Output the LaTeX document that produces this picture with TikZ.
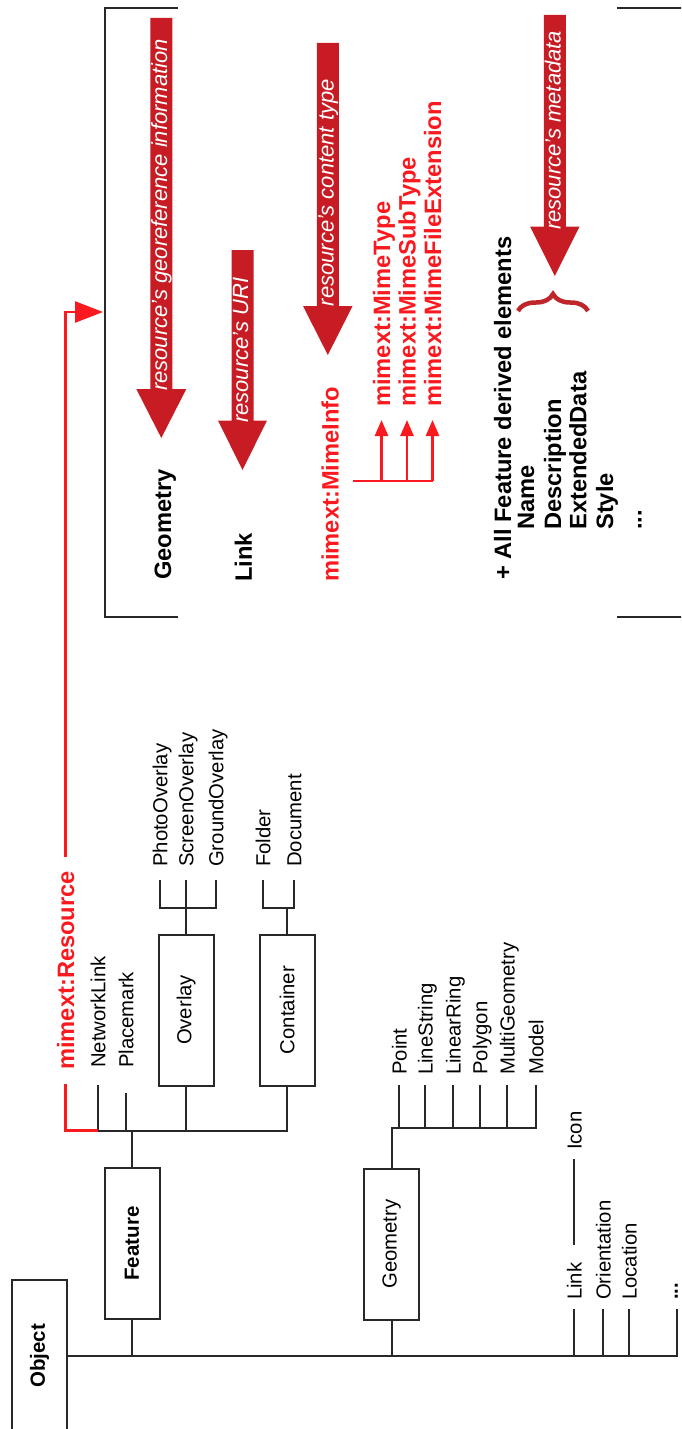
\documentclass[tikz,border=0pt]{standalone}
\usepackage{fontspec}
\setmainfont{Liberation Sans}
\usetikzlibrary{arrows.meta,decorations.pathreplacing}
\definecolor{inkgray}{RGB}{40,40,40}
\definecolor{linkred}{RGB}{250,25,30}
\definecolor{bannerred}{RGB}{200,28,36}
\definecolor{bracered}{RGB}{190,38,44}
\begin{document}
\begin{tikzpicture}[x=1pt,y=-1pt,
  ln/.style={draw=inkgray, line width=2pt},
  rln/.style={draw=linkred, line width=2.6pt},
  classbox/.style={draw=inkgray, line width=2pt, rotate=90, minimum width=151pt,
    minimum height=55pt, inner sep=0pt, font=\fontsize{20.3}{24}\selectfont},
  boldbox/.style={classbox, font=\bfseries\fontsize{20.5}{24}\selectfont},
  lbl/.style={rotate=90, anchor=west, inner sep=0pt, text height=14.5pt,
    text depth=0pt, font=\fontsize{20.3}{24}\selectfont},
  blbl/.style={rotate=90, anchor=west, inner sep=0pt, text height=17pt,
    text depth=0pt, font=\bfseries\fontsize{23.7}{28}\selectfont},
  rlbl/.style={blbl, text=linkred},
  btxt/.style={rotate=90, anchor=west, inner sep=0pt, text height=11.4pt,
    text depth=0pt, text=white, font=\itshape\fontsize{22}{26}\selectfont},
  banner/.style={fill=bannerred},
  smallhead/.style={-{Triangle[length=16pt,width=13pt]}},
]
\useasboundingbox (0,0) rectangle (681,1429);
\clip (0,0) rectangle (681,1429);

% ---------- class hierarchy ----------
\node[boldbox, minimum width=152pt] (obj) at (39.5,1356) {Object};
\node[boldbox] (feat) at (132,1243.5) {Feature};
\node[classbox] (ovl) at (186,1010) {Overlay};
\node[classbox] (cont) at (287,1010) {Container};
\node[classbox] (geom) at (391.7,1244) {Geometry};

% trunk from Object
\draw[ln] (obj.south) -- (677.3,1356) -- (677.3,1309.3);
\draw[ln] (feat.west) -- (feat.west |- obj.south);
\draw[ln] (geom.west) -- (geom.west |- obj.south);

% Feature children
\node[lbl] (nlink) at (98,1068) {NetworkLink};
\node[lbl] (pmark) at (126,1068) {Placemark};
\draw[ln] (feat.east) -- (132,1130.7);
\draw[ln] ([yshift=-17pt]nlink.west) -- (98,1130.7) -- (287,1130.7) -- (cont.west);
\draw[ln] (126,1130.7) -- ([yshift=-25pt]pmark.west);
\draw[ln] (186,1130.7) -- (ovl.west);

% Overlay children
\node[lbl] (photo) at (160,867) {PhotoOverlay};
\node[lbl] (screen) at (186,867) {ScreenOverlay};
\node[lbl] (ground) at (216,867) {GroundOverlay};
\draw[ln] (ovl.east) -- (186,908);
\draw[ln] ([yshift=-13pt]photo.west) -- (160,908) -- (216,908) -- ([yshift=-13pt]ground.west);
\draw[ln] (186,908) -- ([yshift=-13pt]screen.west);

% Container children
\node[lbl] (folder) at (263,867) {Folder};
\node[lbl] (docu) at (294,867) {Document};
\draw[ln] (cont.east) -- (287,908);
\draw[ln] ([yshift=-13pt]folder.west) -- (263,908) -- (294,908) -- ([yshift=-13pt]docu.west);

% Geometry children
\node[lbl] (gpoint) at (399.3,1075) {Point};
\node[lbl] (gline) at (425.3,1075) {LineString};
\node[lbl] (gring) at (453.3,1075) {LinearRing};
\node[lbl] (gpoly) at (480,1075) {Polygon};
\node[lbl] (gmulti) at (507.3,1075) {MultiGeometry};
\node[lbl] (gmodel) at (536,1075) {Model};
\draw[ln] (geom.east) -- (391.7,1127.7) -- (536,1127.7) -- ([yshift=-10pt]gmodel.west);
\foreach \gx/\gn in {399.3/gpoint, 425.3/gline, 453.3/gring, 480/gpoly, 507.3/gmulti}
  \draw[ln] (\gx,1127.7) -- ([yshift=-10pt]\gn.west);

% other Object children
\node[lbl] (olink) at (574.3,1300) {Link};
\node[lbl] (orient) at (603.3,1300) {Orientation};
\node[lbl] (oloc) at (629.3,1300) {Location};
\node[lbl, font=\bfseries\fontsize{20.3}{24}\selectfont] (omore) at (670.5,1300) {...};
\node[lbl] (icon) at (574.3,1150) {Icon};
\foreach \ox/\on in {574.3/olink, 603.3/orient, 629.3/oloc}
  \draw[ln] (\ox,1356) -- ([yshift=-9pt]\on.west);
\draw[ln] ([yshift=17pt]olink.east) -- ([yshift=-9pt]icon.west);

% ---------- mimext:Resource ----------
\coordinate (rentry) at (103,312);
\node[rlbl, inner xsep=13.5pt] (res) at (65.5,1083.5) {mimext:Resource};
\draw[rln] (98,1130.7) -- (65.5,1130.7) -- (res.west);
\draw[rln, -{Triangle[length=28pt,width=21pt]}] (res.east) |- (rentry);

% bracket around the resource elements
\draw[ln] (178,8) -- (104.5,8) -- (104.5,617) -- (178,617);
\draw[ln] (616.7,8) -- (690,8);
\draw[ln] (616.7,617) -- (690,617);

% banner arrows
\fill[banner] (150.3,18) -- (172.3,18) -- (172.3,389) -- (186.3,389) -- (161.3,438)
  -- (136.3,389) -- (150.3,389) -- cycle;
\fill[banner] (231.5,250) -- (253.5,250) -- (253.5,420.5) -- (267,420.5) -- (242.5,470)
  -- (218,420.5) -- (231.5,420.5) -- cycle;
\fill[banner] (316.8,43) -- (338.8,43) -- (338.8,306) -- (352.6,306) -- (327.8,355)
  -- (303,306) -- (316.8,306) -- cycle;
\fill[banner] (543.8,15) -- (565.8,15) -- (565.8,226.5) -- (579.6,226.5) -- (554.8,276)
  -- (530,226.5) -- (543.8,226.5) -- cycle;
\node[btxt] (tgeo) at (161.3,391) {resource's georeference information};
\node[btxt] (turi) at (242.5,423) {resource's URI};
\node[btxt] (ttype) at (327.8,306.5) {resource's content type};
\node[btxt] (tmeta) at (554.8,230) {resource's metadata};

% resource elements
\node[blbl] (rgeo) at (162.5,580) {Geometry};
\node[blbl] (rlink) at (243.3,582) {Link};
\node[rlbl] (minfo) at (330,582) {mimext:MimeInfo};
\node[rlbl] (mtype) at (381.5,407) {mimext:MimeType};
\node[rlbl] (msub) at (407,407) {mimext:MimeSubType};
\node[rlbl] (mext) at (432.5,407) {mimext:MimeFileExtension};
\coordinate (mjoin) at (353,481);
\draw[rln] (mjoin) -- (432.5,481);
\foreach \mx/\mn in {381.5/mtype, 407/msub, 432.5/mext}
  \draw[rln, smallhead] (\mx,481) -- ([yshift=-13pt]\mn.west);

\node[blbl] (allf) at (502.5,580) {+ All Feature derived elements};
\node[blbl] (fname) at (525.5,530) {Name};
\node[blbl] (fdesc) at (552.7,530) {Description};
\node[blbl] (fext) at (577.8,530) {ExtendedData};
\node[blbl] (fstyle) at (604.5,530) {Style};
\node[blbl] (fmore) at (633,530) {...};

\draw[bracered, line width=4.5pt, decorate, decoration={brace, amplitude=17pt}]
  (518,311) -- (588,311);
\end{tikzpicture}
\end{document}
